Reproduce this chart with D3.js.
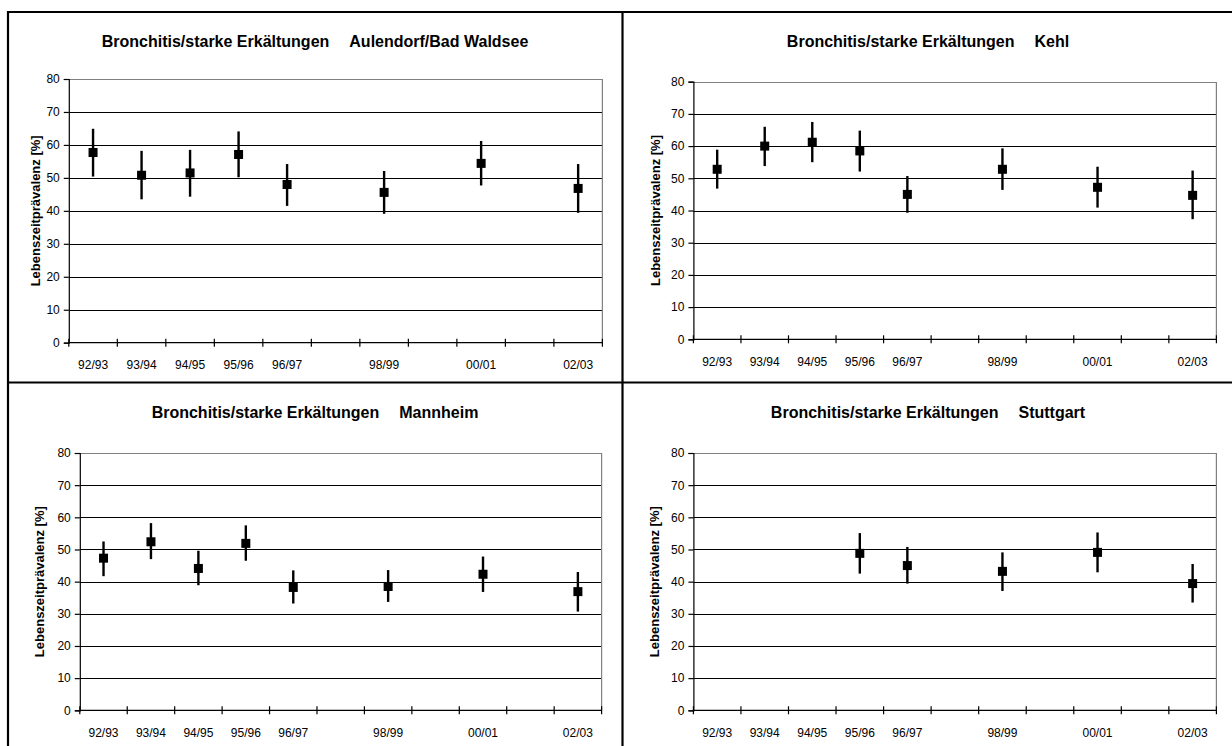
<!DOCTYPE html>
<html>
<head>
<meta charset="utf-8">
<script src="https://cdn.jsdelivr.net/npm/d3@7"></script>
<style>
  html, body { margin: 0; padding: 0; background: #fff; }
  svg { display: block; font-family: "Liberation Sans", Arial, sans-serif; }
</style>
</head>
<body>
<svg id="chart" width="1232" height="746"></svg>
<script>
// Survey seasons along the x axis (some seasons without a survey)
const seasons = ["92/93", "93/94", "94/95", "95/96", "96/97", "97/98", "98/99", "99/00", "00/01", "01/02", "02/03"];
const tickLabels = ["92/93", "93/94", "94/95", "95/96", "96/97", "", "98/99", "", "00/01", "", "02/03"];
const yTicks = [0, 10, 20, 30, 40, 50, 60, 70, 80];

const titlePrefix = "Bronchitis/starke Erkältungen";
const yTitle = "Lebenszeitprävalenz [%]";
const cities = ["Aulendorf/Bad Waldsee", "Kehl", "Mannheim", "Stuttgart"];

// Lifetime prevalence (%) with 95% confidence limits per season
const aulendorfValue = [57.7, 50.8, 51.5, 57.1, 48.0, null, 45.6, null, 54.4, null, 46.8];
const aulendorfLow   = [50.4, 43.5, 44.3, 50.2, 41.5, null, 39.1, null, 47.7, null, 39.4];
const aulendorfHigh  = [64.9, 58.2, 58.5, 64.1, 54.2, null, 52.1, null, 61.2, null, 54.2];

const kehlValue = [52.8, 60.0, 61.2, 58.5, 45.0, null, 52.8, null, 47.2, null, 44.7];
const kehlLow   = [46.8, 53.8, 55.0, 52.1, 39.3, null, 46.4, null, 40.9, null, 37.3];
const kehlHigh  = [58.9, 66.0, 67.5, 64.8, 50.7, null, 59.3, null, 53.6, null, 52.4];

const mannheimValue = [47.3, 52.4, 44.1, 51.9, 38.2, null, 38.5, null, 42.3, null, 36.9];
const mannheimLow   = [41.7, 47.0, 38.9, 46.5, 33.2, null, 33.7, null, 36.8, null, 30.7];
const mannheimHigh  = [52.5, 58.2, 49.6, 57.5, 43.5, null, 43.6, null, 47.8, null, 43.0];

const stuttgartValue = [null, null, null, 48.8, 45.0, null, 43.2, null, 49.1, null, 39.4];
const stuttgartLow   = [null, null, null, 42.5, 39.4, null, 37.1, null, 42.9, null, 33.5];
const stuttgartHigh  = [null, null, null, 55.1, 50.8, null, 49.1, null, 55.3, null, 45.5];

const cityValues = [aulendorfValue, kehlValue, mannheimValue, stuttgartValue];
const cityLows = [aulendorfLow, kehlLow, mannheimLow, stuttgartLow];
const cityHighs = [aulendorfHigh, kehlHigh, mannheimHigh, stuttgartHigh];

// Panel layout: plot rectangle, title and axis-title positions
const panels = [
  { x0: 68.8, x1: 602.4, y0: 79.0, y1: 342.7, tx: 315, ty: 47, ax: 35 },
  { x0: 693.4, x1: 1216.4, y0: 81.7, y1: 339.3, tx: 928, ty: 47, ax: 655 },
  { x0: 79.8, x1: 601.6, y0: 453.0, y1: 710.3, tx: 315, ty: 417.5, ax: 39 },
  { x0: 693.4, x1: 1216.4, y0: 453.0, y1: 710.3, tx: 928, ty: 417.5, ax: 654.5 }
];

const svg = d3.select("#chart");

panels.forEach((p, i) => {
  const g = svg.append("g");
  const x = d3.scaleBand().domain(seasons).range([p.x0, p.x1]).padding(0);
  const y = d3.scaleLinear().domain([0, 80]).range([p.y1, p.y0]);

  // horizontal gridlines
  g.selectAll("line.grid").data(yTicks.filter(t => t > 0 && t < 80)).enter()
    .append("line")
    .attr("x1", p.x0).attr("x2", p.x1)
    .attr("y1", d => Math.round(y(d)) + 0.5).attr("y2", d => Math.round(y(d)) + 0.5)
    .attr("stroke", "#000").attr("stroke-width", 1);

  // grey frame on top and right of the plot area
  g.append("path")
    .attr("d", `M${p.x0},${Math.round(y(80)) + 0.5}H${p.x1}V${p.y1}`)
    .attr("fill", "none").attr("stroke", "#808080").attr("stroke-width", 1.2);

  // y axis
  const yAxis = d3.axisLeft(y).tickValues(yTicks).tickSize(5).tickPadding(4);
  const ya = g.append("g").attr("transform", `translate(${p.x0},0)`).call(yAxis);
  ya.select(".domain").attr("stroke", "#000").attr("stroke-width", 1.2);
  ya.selectAll(".tick line").attr("stroke", "#000").attr("stroke-width", 1.2);
  ya.selectAll(".tick text").attr("font-size", 12).attr("fill", "#000")
    .attr("font-family", "'Liberation Sans', Arial, sans-serif");

  // x axis with crossing tick marks on the band boundaries
  const xa = g.append("g").attr("transform", `translate(0,${p.y1})`);
  xa.append("line").attr("x1", p.x0).attr("x2", p.x1).attr("y1", 0).attr("y2", 0)
    .attr("stroke", "#000").attr("stroke-width", 1.2);
  const bounds = seasons.map(s => x(s)).concat([p.x1]);
  xa.selectAll("line.tk").data(bounds).enter().append("line")
    .attr("x1", d => d).attr("x2", d => d).attr("y1", -4).attr("y2", 4)
    .attr("stroke", "#000").attr("stroke-width", 1.2);
  xa.selectAll("text.lbl").data(seasons).enter().append("text")
    .attr("x", d => x(d) + x.bandwidth() / 2)
    .attr("y", 26.5)
    .attr("text-anchor", "middle").attr("font-size", 12).attr("fill", "#000")
    .text((d, j) => tickLabels[j]);

  // error bars and markers
  const rows = seasons.map((s, j) => ({ s, v: cityValues[i][j], lo: cityLows[i][j], hi: cityHighs[i][j] }))
    .filter(d => d.v != null);
  g.selectAll("line.err").data(rows).enter().append("line")
    .attr("x1", d => x(d.s) + x.bandwidth() / 2).attr("x2", d => x(d.s) + x.bandwidth() / 2)
    .attr("y1", d => y(d.lo)).attr("y2", d => y(d.hi))
    .attr("stroke", "#000").attr("stroke-width", 2.4);
  g.selectAll("rect.mk").data(rows).enter().append("rect")
    .attr("x", d => x(d.s) + x.bandwidth() / 2 - 4.5).attr("y", d => y(d.v) - 4.5)
    .attr("width", 9).attr("height", 9).attr("fill", "#000");

  // titles
  const t = g.append("text").attr("x", p.tx).attr("y", p.ty)
    .attr("text-anchor", "middle").attr("font-size", 16).attr("font-weight", "bold").attr("fill", "#000");
  t.append("tspan").text(titlePrefix);
  t.append("tspan").attr("dx", 20).text(cities[i]);

  g.append("text")
    .attr("transform", `translate(${p.ax},${(p.y0 + p.y1) / 2}) rotate(-90)`)
    .attr("text-anchor", "middle").attr("dy", "0.35em")
    .attr("font-size", 13).attr("font-weight", "bold").attr("fill", "#000")
    .text(yTitle);
});

// outer frame and panel dividers
const frame = [
  [7, 12, 1232, 12],
  [7, 382.5, 1232, 382.5],
  [8, 11, 8, 746],
  [622.5, 11, 622.5, 746]
];
svg.selectAll("line.frame").data(frame).enter().append("line")
  .attr("x1", d => d[0]).attr("y1", d => d[1]).attr("x2", d => d[2]).attr("y2", d => d[3])
  .attr("stroke", "#000").attr("stroke-width", 2.2);
</script>
</body>
</html>
